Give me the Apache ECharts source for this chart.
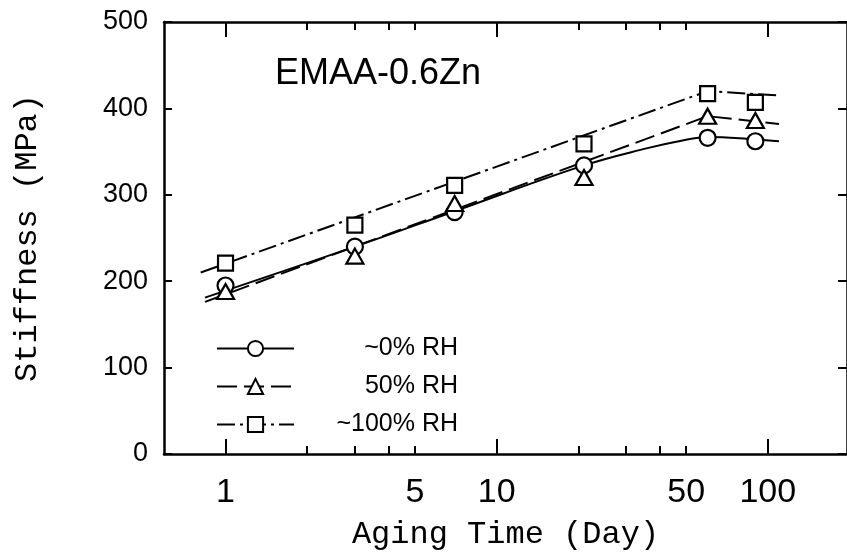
<!DOCTYPE html>
<html>
<head>
<meta charset="utf-8">
<script src="https://cdn.jsdelivr.net/npm/echarts@6/dist/echarts.min.js"></script>
<style>
html,body{margin:0;padding:0;background:#fff;}
#chart{width:847px;height:556px;}
</style>
</head>
<body>
<div id="chart"></div>
<script>
// ---- data ----
const days = [1, 3, 7, 21, 60, 90];
const rh0 = [195, 240, 280, 334, 366, 362];
const rh50 = [188, 229, 290, 320, 391, 386];
const rh100 = [221, 265, 311, 359, 417, 407];

// fitted curves drawn in the figure
const fit0Days = [0.84, 3, 7, 21, 36, 47, 60, 90, 110];
const fit0 = [181, 240, 281, 334, 354, 362, 367, 364, 362];
const fit50Days = [0.84, 60, 110];
const fit50 = [176, 391, 382];
const fit100Days = [0.81, 60, 110];
const fit100 = [210, 420, 415];

const seriesNames = ['~0% RH', '50% RH', '~100% RH'];
const xMajorTicks = [1, 10, 100];
const xMinorTicks = [2, 3, 4, 5, 20, 30, 40, 50];
const xLabels = [1, 5, 10, 50, 100];
const xMin = 0.593, xMax = 196;
const yMin = 0, yMax = 500, yStep = 100;

const pairs = (xs, ys) => xs.map((x, i) => [x, ys[i]]);
const SANS = 'Liberation Sans, Arial, sans-serif';
const MONO = 'Liberation Mono, Courier New, monospace';

const chart = echarts.init(document.getElementById('chart'), null, {renderer: 'canvas'});

const baseX = {
  type: 'log', logBase: 10, min: xMin, max: xMax,
  splitLine: {show: false}, minorTick: {show: false}
};
const markerStyle = {color: '#fff', borderColor: '#000', borderWidth: 2.2, opacity: 1};
const lineCommon = {type: 'line', xAxisIndex: 0, yAxisIndex: 0, showSymbol: false, symbolSize: 16,
  itemStyle: markerStyle, emphasis: {disabled: true}, z: 2, animation: false};

const option = {
  animation: false,
  backgroundColor: '#fff',
  grid: {left: 164, right: -5, top: 22, bottom: 99, containLabel: false},
  legend: {
    orient: 'vertical', left: 211, top: 331,
    itemWidth: 77, itemHeight: 19, itemGap: 13,
    data: seriesNames,
    selectedMode: false,
    formatter: name => '{t|' + name + '}',
    textStyle: {
      fontFamily: SANS, fontSize: 25, color: '#000',
      rich: {t: {fontFamily: SANS, fontSize: 25, color: '#000', width: 159, align: 'right'}}
    }
  },
  xAxis: [
    Object.assign({}, baseX, {
      position: 'bottom',
      axisLine: {show: true, lineStyle: {color: '#000', width: 2.5}},
      axisTick: {show: true, inside: true, length: 15, customValues: xMajorTicks, lineStyle: {color: '#000', width: 2}},
      axisLabel: {show: true, customValues: xLabels, margin: 22, fontFamily: SANS, fontSize: 34, color: '#000'},
      name: 'Aging Time (Day)', nameLocation: 'middle', nameGap: 65,
      nameTextStyle: {fontFamily: MONO, fontSize: 32, color: '#000'}
    }),
    Object.assign({}, baseX, {
      position: 'bottom',
      axisLine: {show: false},
      axisTick: {show: true, inside: true, length: 8, customValues: xMinorTicks, lineStyle: {color: '#000', width: 2}},
      axisLabel: {show: false}
    }),
    Object.assign({}, baseX, {
      position: 'top',
      axisLine: {show: true, lineStyle: {color: '#000', width: 2.5}},
      axisTick: {show: true, inside: true, length: 15, customValues: xMajorTicks, lineStyle: {color: '#000', width: 2}},
      axisLabel: {show: false}
    }),
    Object.assign({}, baseX, {
      position: 'top',
      axisLine: {show: false},
      axisTick: {show: true, inside: true, length: 8, customValues: xMinorTicks, lineStyle: {color: '#000', width: 2}},
      axisLabel: {show: false}
    })
  ],
  yAxis: [
    {
      type: 'value', position: 'left', min: yMin, max: yMax, interval: yStep,
      splitLine: {show: false},
      axisLine: {show: true, lineStyle: {color: '#000', width: 2.5}},
      axisTick: {show: true, inside: true, length: 8, lineStyle: {color: '#000', width: 2}},
      axisLabel: {margin: 16, fontFamily: SANS, fontSize: 27, color: '#000'},
      name: 'Stiffness (MPa)', nameLocation: 'middle', nameGap: 120, nameRotate: 90,
      nameTextStyle: {fontFamily: MONO, fontSize: 32, color: '#000'}
    },
    {
      type: 'value', position: 'right', min: yMin, max: yMax, interval: yStep,
      splitLine: {show: false},
      axisLine: {show: true, lineStyle: {color: '#000', width: 2.5}},
      axisTick: {show: true, inside: true, length: 9, lineStyle: {color: '#000', width: 2}},
      axisLabel: {show: false}
    }
  ],
  graphic: [
    {type: 'text', left: 275, top: 56, silent: true,
     style: {text: 'EMAA-0.6Zn', font: '36px ' + SANS, fill: '#000'}}
  ],
  series: [
    Object.assign({}, lineCommon, {
      name: seriesNames[0], symbol: 'circle', smooth: 0.4,
      lineStyle: {color: '#000', width: 2, type: 'solid'},
      data: pairs(fit0Days, fit0)
    }),
    Object.assign({}, lineCommon, {
      name: seriesNames[1], symbol: 'triangle',
      lineStyle: {color: '#000', width: 2, type: [20, 7]},
      data: pairs(fit50Days, fit50)
    }),
    Object.assign({}, lineCommon, {
      name: seriesNames[2], symbol: 'rect',
      lineStyle: {color: '#000', width: 2, type: [18, 5, 3, 5]},
      data: pairs(fit100Days, fit100)
    }),
    {type: 'scatter', name: 'data0', symbol: 'circle', symbolSize: 16, itemStyle: markerStyle,
     data: pairs(days, rh0), z: 5, emphasis: {disabled: true}},
    {type: 'scatter', name: 'data50', symbol: 'triangle', symbolSize: [17, 15], itemStyle: markerStyle,
     data: pairs(days, rh50), z: 5, emphasis: {disabled: true}},
    {type: 'scatter', name: 'data100', symbol: 'rect', symbolSize: 15, itemStyle: markerStyle,
     data: pairs(days, rh100), z: 5, emphasis: {disabled: true}}
  ]
};
chart.setOption(option);
</script>
</body>
</html>
